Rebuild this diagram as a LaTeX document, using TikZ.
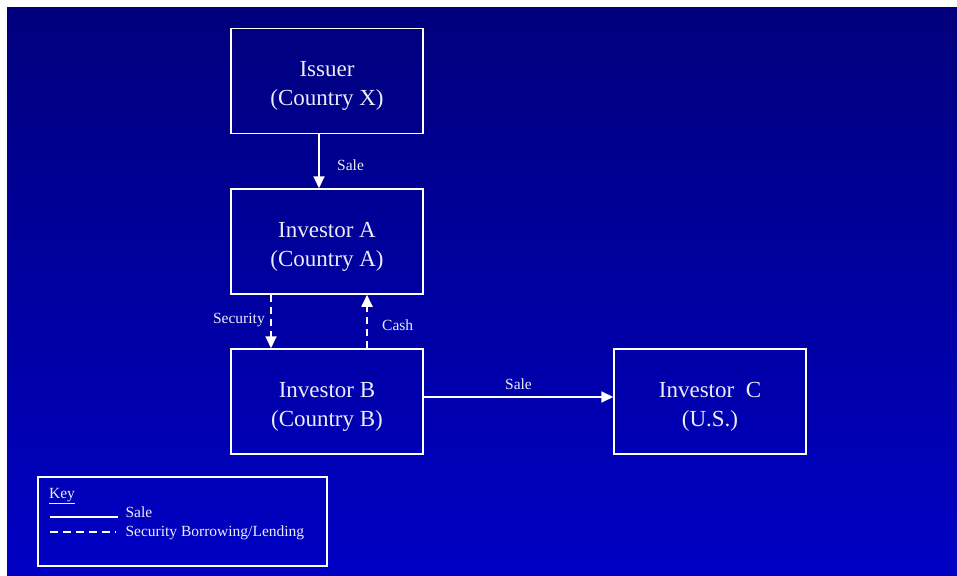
\documentclass[tikz,border=0pt]{standalone}
\usepackage{fontspec}
\setmainfont{Liberation Serif}
\usetikzlibrary{positioning, arrows.meta}
\definecolor{bgtop}{RGB}{0,0,125}
\definecolor{bgbot}{RGB}{0,0,196}
\definecolor{txt}{RGB}{236,236,248}

\begin{document}
\begin{tikzpicture}[x=1pt, y=1pt, >={Triangle[width=11pt,length=12pt]},
  party/.style={draw=white, line width=1.5pt, minimum width=192pt, minimum height=105pt},
  who/.style={align=center, text=txt, yshift=-5pt, font=\fontsize{23}{29}\selectfont},
  flow/.style={->, white, line width=1.8pt},
  lend/.style={flow, dash pattern=on 7pt off 5pt},
  tag/.style={text=txt, font=\fontsize{15.5}{18}\selectfont}]

\useasboundingbox (0,0) rectangle (957,-575);
\shade[top color=bgtop, bottom color=bgbot] (7,-8) rectangle (957,-575);

%Parties
\node (issuer) at (327,-81) [party, label={[who]center:Issuer\\(Country X)}] {};
\node (invA) at (327,-241.5) [party, label={[who]center:Investor A\\(Country A)}] {};
\node (invB) at (327,-401.5) [party, label={[who]center:Investor B\\(Country B)}] {};
\node (invC) at (710,-401.5) [party, label={[who]center:Investor\ \ C\\(U.S.)}] {};

%Flows
\draw[flow] ([xshift=-8pt]issuer.south) to node [tag, right, xshift=14pt, yshift=-4pt] (s1) {Sale} ([xshift=-8pt]invA.north);
\draw[lend] ([xshift=-56pt]invA.south) to node [tag, left, xshift=-2pt, yshift=1pt] (sec) {Security} ([xshift=-56pt]invB.north);
\draw[lend] ([xshift=40pt]invB.north) to node [tag, right, xshift=11pt, yshift=-4pt] (cash) {Cash} ([xshift=40pt]invA.south);
\draw[flow] ([yshift=4.5pt]invB.east) to node [tag, above, yshift=3.5pt] (s2) {Sale} ([yshift=4.5pt]invC.west);

%Key
\node (key) at (182.5,-521.5) [draw=white, line width=1.5pt, minimum width=289pt, minimum height=89pt] {};
\node (keyt) at (62,-496) [tag] {\underline{Key}};
\coordinate (k1a) at (50,-517);
\coordinate (k1b) at (118,-517);
\coordinate (k2a) at (50,-532);
\coordinate (k2b) at (116,-532);
\draw[white, line width=1.5pt] (k1a) -- (k1b);
\draw[white, line width=1.5pt, dash pattern=on 8pt off 5pt] (k2a) -- (k2b);
\node (k1) [tag, anchor=west] at (122,-512.5) {Sale};
\node (k2) [tag, anchor=west] at (122,-533) {Security Borrowing/Lending};
\end{tikzpicture}
\end{document}
